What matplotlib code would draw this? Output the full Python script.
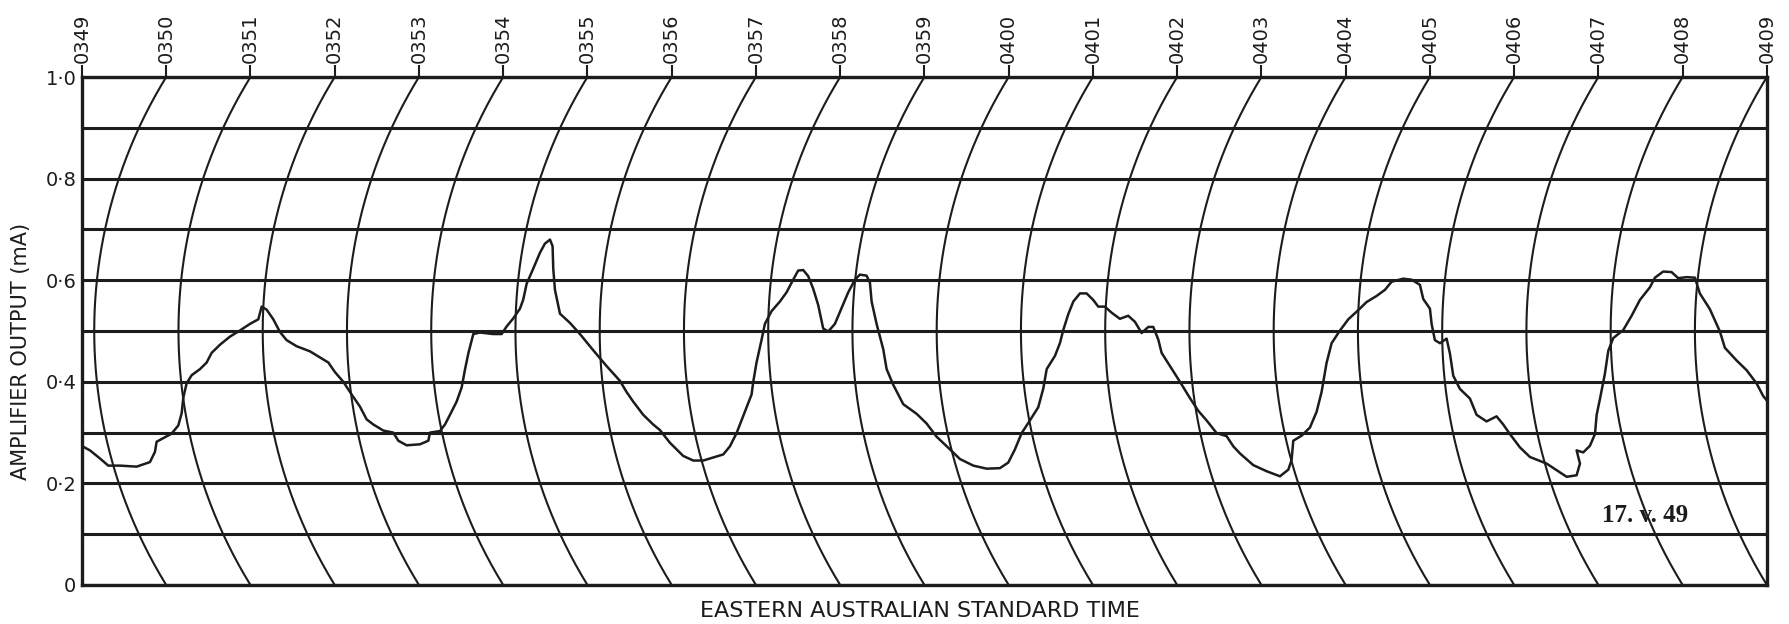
# amplifier output record, 17 v 49
import numpy as np
import matplotlib.pyplot as plt

# time marks along the top, one per minute
time_labels = ['0349', '0350', '0351', '0352', '0353', '0354', '0355', '0356',
               '0357', '0358', '0359', '0400', '0401', '0402', '0403', '0404',
               '0405', '0406', '0407', '0408', '0409']

# pen trace: minutes after 0349 (horizontal position) and output in mA
trace_min = [0.016, 0.095, 0.214, 0.312, 0.451, 0.649, 0.807, 0.866, 0.886, 0.965,
             1.064, 1.143, 1.183, 1.203, 1.242, 1.302, 1.401, 1.480, 1.539, 1.638,
             1.757, 1.875, 1.994, 2.093, 2.133, 2.192, 2.271, 2.350, 2.429, 2.548,
             2.706, 2.825, 2.924, 3.003, 3.102, 3.201, 3.300, 3.379,
             3.458, 3.577, 3.695, 3.755, 3.854, 4.012, 4.111, 4.131, 4.249, 4.309,
             4.368, 4.447, 4.507, 4.546, 4.586, 4.645, 4.724, 4.882, 4.981, 5.041,
             5.120, 5.199, 5.238, 5.278, 5.357, 5.436, 5.495, 5.555, 5.586, 5.594,
             5.614, 5.674, 5.792, 5.911, 6.069, 6.227, 6.385, 6.464, 6.543, 6.662,
             6.780,
             6.860, 6.979, 7.137, 7.256, 7.374, 7.493, 7.612, 7.691, 7.770, 7.829,
             7.889, 7.948, 7.968, 8.007, 8.067, 8.106, 8.185, 8.284, 8.363, 8.442,
             8.501, 8.561, 8.620, 8.680, 8.739, 8.798, 8.858, 8.937, 9.016, 9.095,
             9.175, 9.234, 9.313, 9.353, 9.373, 9.432, 9.511, 9.551, 9.630, 9.748,
             9.907, 10.025, 10.144,
             10.303, 10.421, 10.580, 10.738, 10.896, 10.995, 11.074, 11.154, 11.252,
             11.351, 11.411, 11.451, 11.549, 11.608, 11.648, 11.707, 11.767, 11.846,
             11.925, 12.004, 12.063, 12.142, 12.222, 12.320, 12.419, 12.499, 12.578,
             12.657, 12.716, 12.776, 12.815, 12.914, 13.033, 13.151, 13.250, 13.349,
             13.468, 13.587, 13.666,
             13.745, 13.903, 14.061, 14.220, 14.319, 14.358, 14.378, 14.477, 14.576,
             14.655, 14.714, 14.773, 14.833, 14.932, 15.031, 15.149, 15.248, 15.367,
             15.466, 15.545, 15.683, 15.782, 15.881, 15.921, 16.000, 16.020, 16.059,
             16.119, 16.198, 16.237, 16.277, 16.356, 16.475, 16.554, 16.672, 16.791,
             16.870, 16.950, 17.068, 17.187,
             17.385, 17.504, 17.623, 17.741, 17.781, 17.741, 17.820, 17.899, 17.959,
             17.979, 18.018, 18.077, 18.117, 18.176, 18.295, 18.394, 18.492, 18.611,
             18.671, 18.769, 18.868, 18.947, 19.046, 19.145, 19.204, 19.323, 19.442,
             19.501, 19.640, 19.758, 19.877, 19.956, 20.0]
trace_ma = [0.272, 0.265, 0.249, 0.235, 0.235, 0.233, 0.242, 0.262, 0.282, 0.289,
            0.298, 0.314, 0.338, 0.369, 0.397, 0.413, 0.425, 0.438, 0.457, 0.473,
            0.489, 0.501, 0.514, 0.523, 0.548, 0.542, 0.523, 0.498, 0.482, 0.470,
            0.460, 0.448, 0.438, 0.419, 0.400, 0.375, 0.351, 0.326,
            0.316, 0.304, 0.300, 0.284, 0.275, 0.277, 0.284, 0.300, 0.303, 0.316,
            0.335, 0.361, 0.389, 0.424, 0.456, 0.494, 0.497, 0.494, 0.494, 0.509,
            0.525, 0.544, 0.562, 0.593, 0.623, 0.654, 0.672, 0.680, 0.667, 0.623,
            0.581, 0.534, 0.516, 0.494, 0.462, 0.431, 0.402, 0.380, 0.361, 0.335,
            0.316,
            0.305, 0.280, 0.254, 0.245, 0.245, 0.251, 0.257, 0.273, 0.299, 0.324,
            0.349, 0.375, 0.400, 0.438, 0.483, 0.514, 0.539, 0.558, 0.576, 0.601,
            0.619, 0.620, 0.608, 0.583, 0.551, 0.505, 0.499, 0.514, 0.545, 0.576,
            0.601, 0.611, 0.609, 0.595, 0.558, 0.514, 0.464, 0.425, 0.394, 0.356,
            0.337, 0.318, 0.292,
            0.267, 0.248, 0.235, 0.229, 0.230, 0.241, 0.267, 0.299, 0.324,
            0.350, 0.387, 0.425, 0.451, 0.476, 0.502, 0.533, 0.558, 0.574,
            0.574, 0.561, 0.548, 0.548, 0.536, 0.524, 0.530, 0.518, 0.496,
            0.508, 0.508, 0.483, 0.457, 0.431, 0.400, 0.368, 0.343, 0.324,
            0.299, 0.293, 0.273,
            0.259, 0.236, 0.224, 0.214, 0.227, 0.246, 0.284, 0.294, 0.310,
            0.341, 0.380, 0.437, 0.476, 0.501, 0.523, 0.541, 0.557, 0.569,
            0.581, 0.597, 0.603, 0.601, 0.591, 0.563, 0.544, 0.514, 0.482,
            0.476, 0.485, 0.456, 0.412, 0.386, 0.367, 0.335, 0.322, 0.332,
            0.316, 0.297, 0.271, 0.252,
            0.239, 0.226, 0.213, 0.216, 0.239, 0.265, 0.261, 0.274, 0.297,
            0.335, 0.366, 0.416, 0.461, 0.486, 0.502, 0.530, 0.561, 0.586,
            0.605, 0.617, 0.616, 0.604, 0.606, 0.605, 0.574, 0.543, 0.499,
            0.467, 0.442, 0.423, 0.397, 0.372, 0.363]

y_ticks = [0, 0.2, 0.4, 0.6, 0.8, 1.0]
y_tick_labels = ['0', '0·2', '0·4', '0·6', '0·8', '1·0']
grid_levels = np.arange(0, 1.01, 0.1)

ink = '#1c1c1c'

fig = plt.figure(figsize=(17.9, 6.24), dpi=100)
ax = fig.add_axes([0.0458, 0.0625, 0.9413, 0.8141])

# horizontal rulings
for g in grid_levels:
    ax.axhline(g, color=ink, lw=2.2, zorder=1)

# curved time lines (circle arcs in pixel space, bulging to the left)
ax_w_px = 0.9413 * 1790
ax_h_px = 0.8141 * 624
px_per_min = ax_w_px / 20
sag = 72.0
half_h = ax_h_px / 2
R = (half_h ** 2 + sag ** 2) / (2 * sag)
yy = np.linspace(0, 1, 200)
dy = (yy - 0.5) * ax_h_px
dx = R - np.sqrt(R ** 2 - dy ** 2)
for t in range(len(time_labels)):
    xx = t - sag / px_per_min + dx / px_per_min
    ax.plot(xx, yy, color=ink, lw=1.5, zorder=2)

# the trace
ax.plot(trace_min, trace_ma, color=ink, lw=1.8, zorder=3)

ax.text(18.55, 0.136, '17. v. 49', fontsize=18, family='Liberation Serif',
        ha='center', va='center', color=ink, fontweight='bold')

ax.set_xlim(0, 20)
ax.set_ylim(0, 1.0)
for s in ax.spines.values():
    s.set_linewidth(2.4)
    s.set_color(ink)

ax.set_xticks(range(len(time_labels)))
ax.set_xticklabels(time_labels, rotation=90, fontsize=14, color=ink)
ax.tick_params(axis='x', top=True, labeltop=True, bottom=False, labelbottom=False,
               length=9, width=1.5, color=ink, pad=1)

ax.set_yticks(y_ticks)
ax.set_yticklabels(y_tick_labels, fontsize=14, color=ink)
ax.tick_params(axis='y', length=0, pad=4)

fig.text(0.012, 1 - 351 / 624, 'AMPLIFIER OUTPUT (mA)', rotation=90,
         ha='center', va='center', fontsize=15, color=ink)
fig.text(0.514, 0.021, 'EASTERN AUSTRALIAN STANDARD TIME', ha='center', va='center',
         fontsize=16, color=ink)

fig.savefig('out.png', dpi=100, facecolor='white')
